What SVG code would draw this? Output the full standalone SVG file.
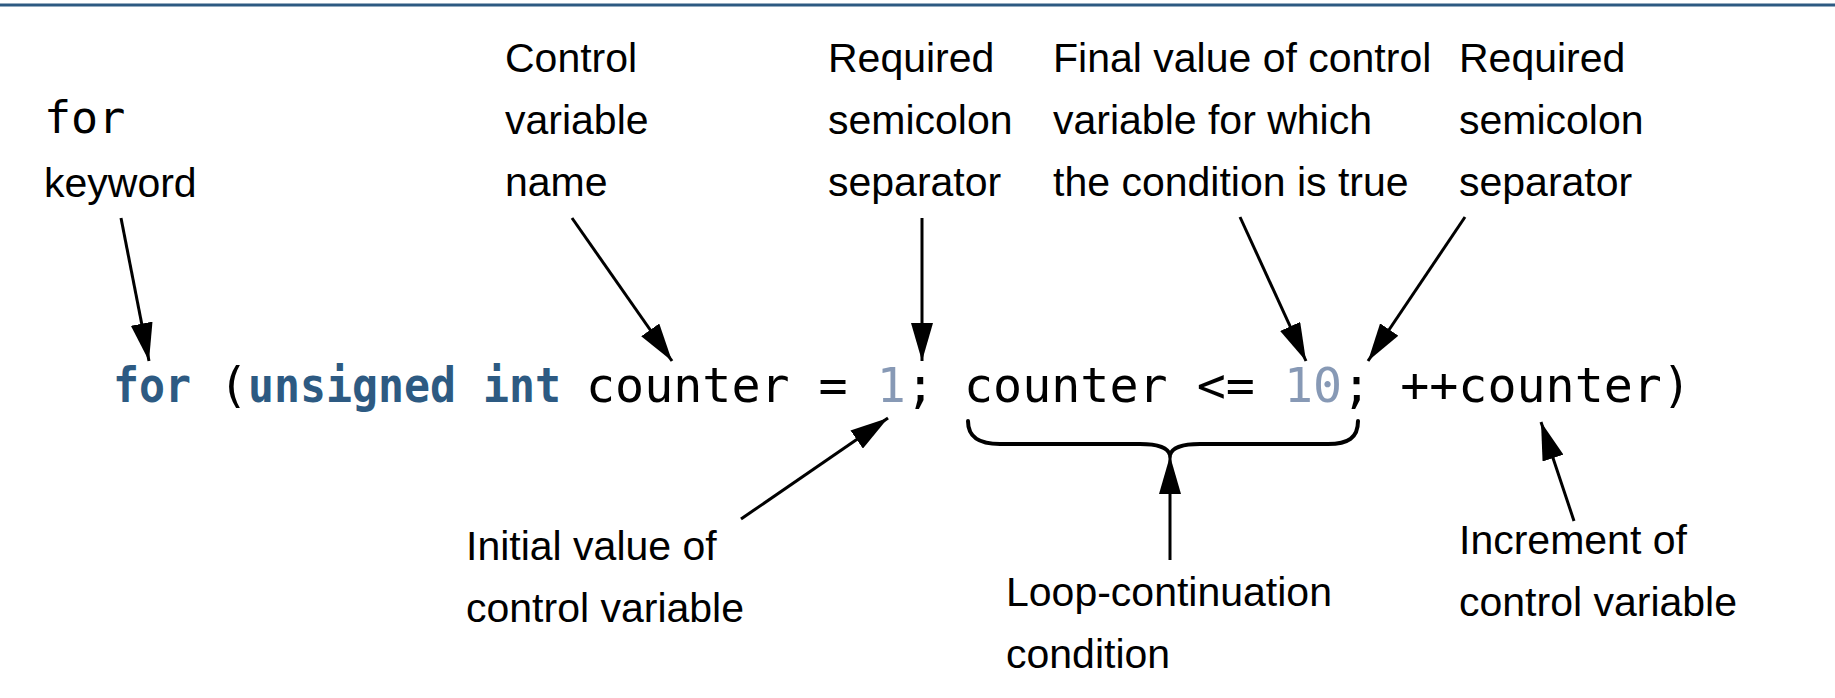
<svg xmlns="http://www.w3.org/2000/svg" width="1835" height="698" viewBox="0 0 1835 698">
<style>
.lbl{font-family:"Liberation Sans",Arial,sans-serif;font-size:41px;fill:#000}
.mono{font-family:"DejaVu Sans Mono","Liberation Mono",monospace;font-size:48.3px;fill:#000}
.kw{font-family:"DejaVu Sans Mono","Liberation Mono",monospace;font-size:48.3px;font-weight:bold;fill:#2d5a82}
.num{fill:#8799b5}
.arr{stroke:#000;stroke-width:3;fill:none;marker-end:url(#ah)}
.brace{stroke:#000;stroke-width:4;fill:none;stroke-linecap:round}
</style>
<defs>
<marker id="ah" markerUnits="userSpaceOnUse" markerWidth="40" markerHeight="22" refX="38" refY="11" orient="auto">
<path d="M0,0 L38,11 L0,22 z" fill="#000"/>
</marker>
</defs>
<rect width="1835" height="698" fill="#fff"/>
<line x1="0" y1="5" x2="1835" y2="5" stroke="#2d5a82" stroke-width="3"/>

<g id="code">
<text class="kw" x="113" y="402" textLength="78" lengthAdjust="spacingAndGlyphs">for</text>
<text class="mono" x="219" y="402">(</text>
<text class="kw" x="248" y="402" textLength="208" lengthAdjust="spacingAndGlyphs">unsigned</text>
<text class="kw" x="483" y="402" textLength="78" lengthAdjust="spacingAndGlyphs">int</text>
<text class="mono" x="586" y="402" xml:space="preserve">counter = <tspan class="num">1</tspan>; counter &lt;= <tspan class="num">10</tspan>; ++counter)</text>
</g>

<g id="label-for">
<text class="mono" x="44" y="133" style="font-size:45px">for</text>
<text class="lbl" x="44" y="197">keyword</text>
</g>
<g id="label-name">
<text class="lbl" x="505" y="72">Control</text>
<text class="lbl" x="505" y="134">variable</text>
<text class="lbl" x="505" y="196">name</text>
</g>
<g id="label-semi1">
<text class="lbl" x="828" y="72">Required</text>
<text class="lbl" x="828" y="134">semicolon</text>
<text class="lbl" x="828" y="196">separator</text>
</g>
<g id="label-final">
<text class="lbl" x="1053" y="72">Final value of control</text>
<text class="lbl" x="1053" y="134">variable for which</text>
<text class="lbl" x="1053" y="196">the condition is true</text>
</g>
<g id="label-semi2">
<text class="lbl" x="1459" y="72">Required</text>
<text class="lbl" x="1459" y="134">semicolon</text>
<text class="lbl" x="1459" y="196">separator</text>
</g>
<g id="label-initial">
<text class="lbl" x="466" y="560">Initial value of</text>
<text class="lbl" x="466" y="622">control variable</text>
</g>
<g id="label-cond">
<text class="lbl" x="1006" y="606">Loop-continuation</text>
<text class="lbl" x="1006" y="668">condition</text>
</g>
<g id="label-incr">
<text class="lbl" x="1459" y="554">Increment of</text>
<text class="lbl" x="1459" y="616">control variable</text>
</g>

<g id="connectors">
<line class="arr" x1="121" y1="218" x2="149" y2="361"/>
<line class="arr" x1="572" y1="218" x2="672" y2="361"/>
<line class="arr" x1="922" y1="218" x2="922" y2="361"/>
<line class="arr" x1="1240" y1="217" x2="1306" y2="361"/>
<line class="arr" x1="1465" y1="217" x2="1368" y2="361"/>
<line class="arr" x1="741" y1="519" x2="888" y2="418"/>
<line class="arr" x1="1170" y1="560" x2="1170" y2="456"/>
<line class="arr" x1="1574" y1="521" x2="1541" y2="422"/>
</g>
<g id="brace">
<path class="brace" d="M968,421 C968,438 980,444 1000,444 L1140,444 C1160,444 1168,448 1170,455 C1172,448 1180,444 1200,444 L1328,444 C1348,444 1358,438 1358,421"/>
</g>
</svg>
